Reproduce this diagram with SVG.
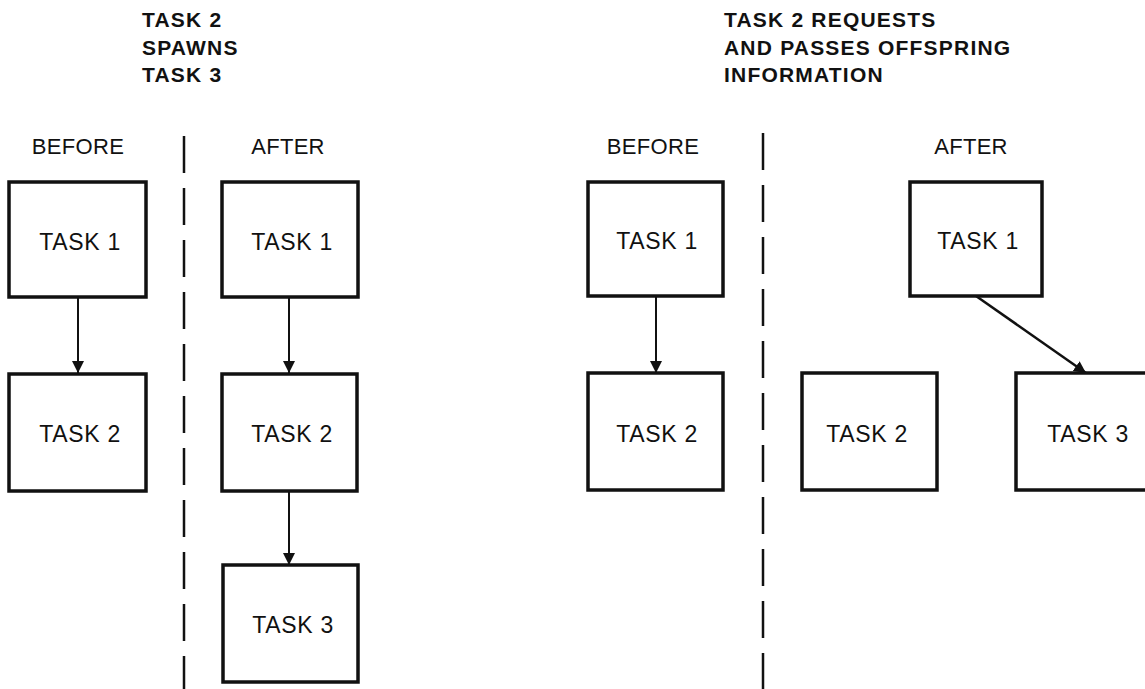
<svg xmlns="http://www.w3.org/2000/svg" width="1145" height="689" viewBox="0 0 1145 689">
  <style>
    .title { font-family: "Liberation Sans", Arial, sans-serif; font-weight: bold; font-size: 21px; letter-spacing: 1.2px; fill: #111; }
    .head { font-family: "Liberation Sans", Arial, sans-serif; font-size: 22px; letter-spacing: 0.3px; fill: #111; text-anchor: middle; }
    .box rect { fill: #fff; stroke: #111; stroke-width: 3.5; }
    .box text { font-family: "Liberation Sans", Arial, sans-serif; font-size: 23px; letter-spacing: 0.7px; fill: #111; text-anchor: middle; }
    .divider { stroke: #111; stroke-width: 2.5; stroke-dasharray: 37 15; fill: none; }
    .link { stroke: #111; stroke-width: 2; fill: none; marker-end: url(#arrow); }
  </style>
  <defs>
    <marker id="arrow" viewBox="0 0 12 16" refX="12" refY="8" markerWidth="12" markerHeight="16" markerUnits="userSpaceOnUse" orient="auto">
      <path d="M0,2 L12,8 L0,14 Z" fill="#111"/>
    </marker>
  </defs>
  <rect width="1145" height="689" fill="#fff"/>

  <!-- Titles -->
  <g id="title-left">
    <text class="title" x="142" y="27">TASK 2</text>
    <text class="title" x="142" y="55">SPAWNS</text>
    <text class="title" x="142" y="82">TASK 3</text>
  </g>
  <g id="title-right">
    <text class="title" x="724" y="27">TASK 2 REQUESTS</text>
    <text class="title" x="724" y="55">AND PASSES OFFSPRING</text>
    <text class="title" x="724" y="82">INFORMATION</text>
  </g>

  <!-- Column headings -->
  <g id="headings">
    <text class="head" x="78" y="154">BEFORE</text>
    <text class="head" x="288" y="154">AFTER</text>
    <text class="head" x="653" y="154">BEFORE</text>
    <text class="head" x="971" y="154">AFTER</text>
  </g>

  <!-- Dashed dividers -->
  <g id="dividers">
    <line class="divider" x1="184" y1="136" x2="184" y2="689"/>
    <line class="divider" x1="763" y1="133" x2="763" y2="689"/>
  </g>

  <!-- Connectors -->
  <g id="connectors">
    <line class="link" x1="78" y1="297" x2="78" y2="373"/>
    <line class="link" x1="289" y1="297" x2="289" y2="373"/>
    <line class="link" x1="289" y1="491" x2="289" y2="565"/>
    <line class="link" x1="656" y1="296" x2="656" y2="373"/>
    <line class="link" x1="976" y1="296" x2="1086" y2="373" style="stroke-width:2.5"/>
  </g>

  <!-- Left panel: before -->
  <g id="l-before-task1" class="box">
    <rect x="9" y="182" width="137" height="115"/>
    <text x="80" y="250">TASK 1</text>
  </g>
  <g id="l-before-task2" class="box">
    <rect x="9" y="374" width="137" height="117"/>
    <text x="80" y="442">TASK 2</text>
  </g>

  <!-- Left panel: after -->
  <g id="l-after-task1" class="box">
    <rect x="222" y="182" width="136" height="115"/>
    <text x="292" y="250">TASK 1</text>
  </g>
  <g id="l-after-task2" class="box">
    <rect x="222" y="374" width="135" height="117"/>
    <text x="292" y="442">TASK 2</text>
  </g>
  <g id="l-after-task3" class="box">
    <rect x="223" y="565" width="135" height="117"/>
    <text x="293" y="633">TASK 3</text>
  </g>

  <!-- Right panel: before -->
  <g id="r-before-task1" class="box">
    <rect x="588" y="182" width="135" height="114"/>
    <text x="657" y="249">TASK 1</text>
  </g>
  <g id="r-before-task2" class="box">
    <rect x="588" y="373" width="135" height="117"/>
    <text x="657" y="442">TASK 2</text>
  </g>

  <!-- Right panel: after -->
  <g id="r-after-task1" class="box">
    <rect x="910" y="182" width="132" height="114"/>
    <text x="978" y="249">TASK 1</text>
  </g>
  <g id="r-after-task2" class="box">
    <rect x="802" y="373" width="135" height="117"/>
    <text x="867" y="442">TASK 2</text>
  </g>
  <g id="r-after-task3" class="box">
    <rect x="1016" y="373" width="140" height="117"/>
    <text x="1088" y="442">TASK 3</text>
  </g>
</svg>
